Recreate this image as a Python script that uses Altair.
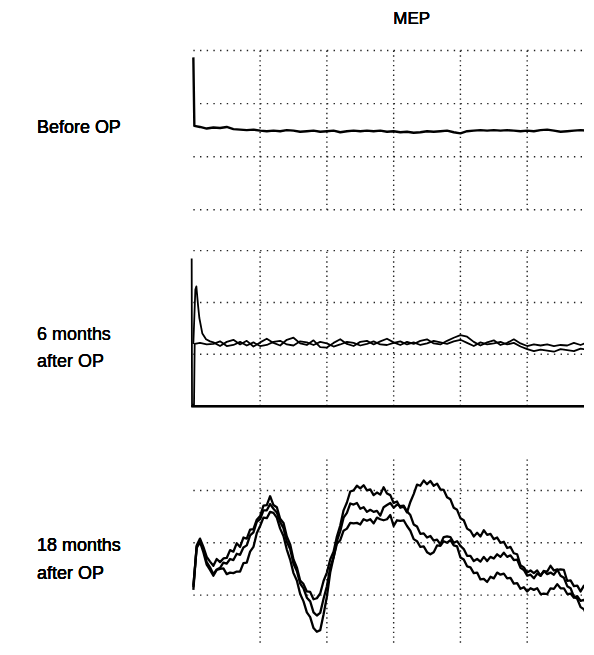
import altair as alt
import pandas as pd

# ---------------- data ----------------
# time axis in ms (1 grid division = 10 ms); amplitude in arbitrary units (1 division = 10)
title_text = "MEP"
labels_before = ["Before OP"]
labels_6m = ["6 months", "after OP"]
labels_18m = ["18 months", "after OP"]

# Panel 1: before OP (single trace)
p1_t = [0.0, 0.15] + [float(i) for i in range(1, 61)]
p1_v = [28.7, 15.8,
        15.6, 15.3, 15.5, 15.4, 15.6, 15.2, 15.1, 15.0, 15.1, 14.9,
        14.8, 14.9, 14.8, 15.0, 14.9, 14.7, 14.8, 14.9, 14.7, 14.8,
        14.9, 14.6, 14.8, 14.9, 14.8, 14.9, 14.8, 14.9, 14.7, 14.8,
        14.6, 14.7, 14.5, 14.6, 14.8, 14.7, 14.8, 14.9, 14.6, 14.4,
        14.8, 14.9, 15.0, 14.9, 15.0, 14.9, 15.0, 14.9, 14.8, 14.9,
        14.8, 15.0, 15.1, 14.9, 14.7, 14.8, 14.9, 15.0, 14.9, 14.8]

# Panel 2: 6 months after OP (two traces)
p2a_t = [0.0, 0.3, 0.45, 0.7, 0.9, 1.35, 1.9, 2.5] + [float(i) for i in range(3, 61)]
p2a_v = [12.0, 22.5, 23.1, 19.5, 17.0, 14.0, 12.9, 12.5,
         12.3, 11.6, 12.4, 12.8, 11.9, 12.6, 11.5, 12.3, 13.0, 12.2,
         11.7, 12.8, 13.2, 12.1, 11.8, 12.7, 11.4, 11.3, 12.2, 12.9,
         12.0, 11.6, 12.4, 12.6, 11.9, 12.5, 13.0, 12.3, 11.8, 12.4,
         12.0, 12.6, 12.9, 12.1, 11.9, 12.6, 13.2, 13.7, 13.4, 12.4,
         11.7, 12.3, 12.7, 11.8, 12.2, 12.9, 12.1, 11.6, 11.9, 11.7,
         11.9, 11.6, 11.8, 11.7, 12.2, 11.8, 12.3, 12.0]
p2b_t = [-0.25, -0.2, 0.1, 0.2, 1.0, 2.0] + [float(i) for i in range(3, 61)]
p2b_v = [28.5, 0.3, 0.3, 12.0, 12.2, 11.9,
         12.0, 12.5, 11.6, 11.8, 12.4, 11.7, 12.3, 11.6, 11.8, 12.4,
         12.6, 11.9, 11.7, 12.5, 12.3, 11.8, 12.4, 12.1, 11.5, 11.9,
         12.4, 12.2, 11.7, 12.0, 12.5, 11.9, 11.8, 12.2, 12.5, 11.9,
         12.3, 11.8, 12.1, 12.6, 12.3, 12.0, 12.5, 12.8, 12.2, 11.6,
         12.3, 11.9, 12.1, 12.4, 11.9, 12.2, 11.5, 11.0, 10.6, 10.9,
         10.7, 10.5, 11.0, 10.8, 10.6, 11.1, 10.9, 10.8]

# Panel 3: 18 months after OP (three traces, sampled every 0.5 ms)
p3_t = [i * 0.5 for i in range(121)]
p3_a = [11.5, 19.5, 20.8, 19.2, 17.3, 16.4, 15.6, 16.9, 16.3, 17.0,
        17.1, 18.6, 18.3, 19.9, 19.2, 21.0, 20.8, 22.5, 22.6, 24.4,
        25.1, 27.1, 27.2, 28.9, 27.2, 26.8, 24.6, 23.8, 21.2, 19.7,
        16.8, 15.3, 12.8, 12.1, 10.7, 10.6, 9.2, 9.4, 10.3, 12.7,
        14.3, 16.8, 18.3, 21.2, 23.3, 26.2, 27.7, 29.8, 30.0, 30.9,
        30.4, 31.0, 30.0, 30.2, 29.1, 29.6, 29.2, 30.6, 29.4, 29.1,
        27.6, 27.9, 26.7, 26.9, 25.8, 27.8, 29.3, 31.1, 30.9, 31.9,
        31.2, 31.8, 30.9, 31.3, 30.2, 30.1, 28.7, 28.3, 26.7, 26.3,
        24.7, 24.3, 22.7, 22.3, 21.2, 21.9, 21.2, 22.4, 21.5, 21.7,
        20.7, 21.0, 20.0, 20.2, 19.0, 19.2, 18.0, 17.8, 15.7, 15.3,
        14.3, 14.7, 14.2, 14.7, 13.7, 14.6, 14.5, 15.6, 14.7, 14.9,
        13.7, 13.3, 11.7, 11.3, 9.7, 9.3, 7.7, 7.3, 5.9, 5.8,
        5.0]
p3_b = [11.0, 19.3, 20.5, 18.7, 16.3, 15.3, 14.0, 14.9, 15.2, 16.2,
        16.0, 16.9, 16.7, 17.9, 17.7, 19.1, 19.5, 21.4, 22.0, 24.0,
        24.5, 26.2, 26.2, 27.4, 26.5, 25.8, 24.0, 22.8, 20.2, 18.8,
        16.0, 14.6, 12.2, 11.3, 9.5, 8.8, 6.7, 6.1, 6.6, 9.3,
        11.7, 15.3, 17.2, 20.3, 22.2, 24.8, 25.7, 27.5, 27.3, 27.6,
        26.5, 26.8, 25.9, 26.3, 25.9, 26.1, 25.2, 26.8, 27.2, 27.6,
        26.7, 27.3, 27.0, 27.1, 26.0, 25.3, 23.5, 23.1, 21.7, 21.8,
        21.0, 21.3, 20.4, 20.6, 19.7, 21.1, 21.2, 21.1, 20.0, 20.3,
        19.4, 18.8, 17.5, 17.5, 16.5, 16.9, 16.4, 17.3, 16.5, 17.3,
        17.0, 17.8, 17.3, 18.1, 17.3, 17.6, 16.7, 16.8, 15.2, 14.8,
        13.7, 13.9, 13.2, 14.1, 13.7, 14.6, 14.0, 14.3, 13.9, 14.8,
        14.9, 14.8, 12.7, 12.8, 11.7, 11.8, 10.7, 11.8, 11.7, 12.8,
        12.5]
p3_c = [11.8, 19.0, 20.1, 18.2, 15.8, 14.8, 13.7, 14.8, 15.0, 15.1,
        14.0, 14.3, 14.2, 14.5, 14.5, 16.1, 16.2, 18.3, 19.2, 21.8,
        23.2, 24.8, 24.7, 25.9, 25.7, 24.8, 22.7, 21.3, 18.7, 16.8,
        14.2, 12.8, 10.2, 8.8, 6.7, 5.8, 3.7, 3.0, 3.3, 6.3,
        9.7, 14.3, 17.2, 19.8, 20.5, 22.3, 22.7, 23.8, 23.7, 23.8,
        23.5, 24.5, 24.2, 24.5, 23.7, 24.8, 24.5, 24.3, 24.5, 25.3,
        23.2, 24.3, 24.2, 24.3, 23.2, 22.3, 20.7, 20.3, 19.2, 19.3,
        18.2, 17.8, 18.2, 19.5, 19.4, 20.3, 20.0, 20.5, 19.5, 19.3,
        17.2, 16.8, 15.5, 15.3, 14.2, 14.3, 13.0, 13.1, 12.5, 13.5,
        13.2, 14.3, 13.9, 14.1, 13.2, 13.3, 12.2, 12.3, 11.2, 11.5,
        10.7, 11.3, 11.0, 11.3, 10.2, 10.3, 10.2, 11.3, 11.2, 12.1,
        11.3, 11.3, 10.2, 10.3, 9.5, 9.8, 8.9, 9.1, 8.0, 8.3,
        7.6]

grid_x = [10, 20, 30, 40, 50]
grid_y = [0, 10, 20, 30]
grid_y_p2 = [10, 20, 30]

# ---------------- layout ----------------
W = 578
X_RIGHT = 58.51
XS = alt.Scale(domain=[-27.76, X_RIGHT], nice=False, zero=False)
FONT = "Liberation Sans"


def traces_df(named):
    rows = []
    for name, ts, vs in named:
        for i, (t, v) in enumerate(zip(ts, vs)):
            rows.append({"trace": name, "i": i, "t": t, "v": v})
    return pd.DataFrame(rows)


def panel(ys, trace_data, hgrid, vtop, texts, sw, solid_bottom=False, height=200):
    hdf = pd.DataFrame({"y": hgrid})
    vdf = pd.DataFrame({"x": grid_x})
    hl = alt.Chart(hdf).mark_rule(color="#222", strokeWidth=1.4, strokeDash=[1.4, 5.3], clip=True).encode(
        y=alt.Y("y:Q", scale=ys, axis=None),
        x=alt.X(datum=0, scale=XS, axis=None),
        x2=alt.X2(datum=X_RIGHT),
    )
    vl = alt.Chart(vdf).mark_rule(color="#222", strokeWidth=1.4, strokeDash=[1.4, 3.4], clip=True).encode(
        x=alt.X("x:Q", scale=XS, axis=None),
        y=alt.Y(datum=0, scale=ys, axis=None),
        y2=alt.Y2(datum=vtop),
    )
    layers = [hl, vl]
    if solid_bottom:
        layers.append(alt.Chart(hdf).mark_rule(color="black", strokeWidth=2.2).encode(
            y=alt.Y(datum=0, scale=ys, axis=None),
            x=alt.X(datum=-0.3, scale=XS, axis=None),
            x2=alt.X2(datum=X_RIGHT),
        ))
    tr = alt.Chart(traces_df(trace_data)).mark_line(color="black", strokeWidth=sw, clip=True,
                                                     strokeJoin="round").encode(
        x=alt.X("t:Q", scale=XS, axis=None),
        y=alt.Y("v:Q", scale=ys, axis=None),
        detail="trace:N",
        order="i:Q",
    )
    layers.append(tr)
    for txt, xx, yy, al, fs in texts:
        layers.append(alt.Chart(hdf).mark_text(
            font=FONT, fontSize=fs, color="black", align=al, baseline="middle"
        ).encode(
            x=alt.X(datum=xx, scale=XS, axis=None),
            y=alt.Y(datum=yy, scale=ys, axis=None),
            text=alt.value(txt),
        ))
    return alt.layer(*layers).properties(width=W, height=height)


ys1 = alt.Scale(domain=[-2.55, 37.6], nice=False, zero=False)
ys2 = alt.Scale(domain=[-4.73, 35.27], nice=False, zero=False)
ys3 = alt.Scale(domain=[0.48, 41.43], nice=False, zero=False)

p1 = panel(ys1, [("a", p1_t, p1_v)], grid_y, 30,
           [(title_text, 32.7, 36.0, "center", 17), (labels_before[0], -23.4, 15.4, "left", 18)],
           2.4, height=214)
p2 = panel(ys2, [("a", p2a_t, p2a_v), ("b", p2b_t, p2b_v)], grid_y_p2, 30,
           [(labels_6m[0], -23.4, 13.8, "left", 18), (labels_6m[1], -23.4, 8.5, "left", 18)],
           1.8, solid_bottom=True, height=208)
p3 = panel(ys3, [("a", p3_t, p3_a), ("b", p3_t, p3_b), ("c", p3_t, p3_c)], grid_y, 36.5,
           [(labels_18m[0], -23.4, 19.3, "left", 18), (labels_18m[1], -23.4, 14.1, "left", 18)],
           2.3, height=215)

chart = alt.vconcat(p1, p2, p3, spacing=0).properties(padding=0).configure_view(strokeWidth=0)

chart.save("out.html", embed_options={"renderer": "svg", "actions": False})
